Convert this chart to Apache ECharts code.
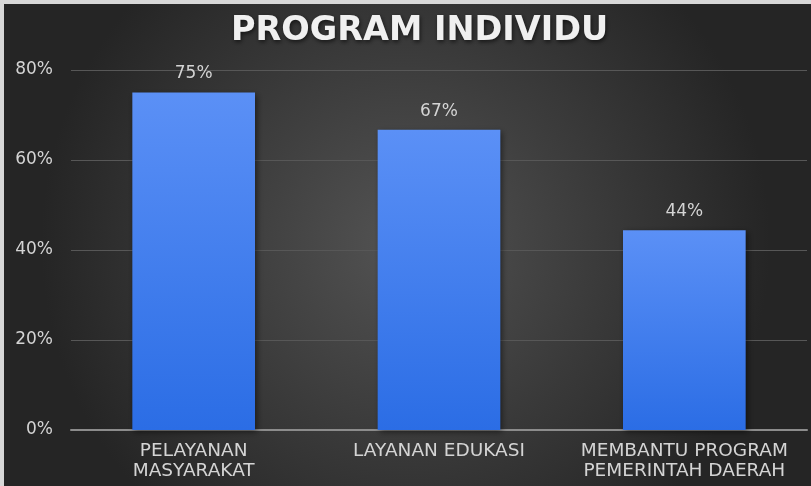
<!DOCTYPE html>
<html>
<head>
<meta charset="utf-8">
<script src="https://cdn.jsdelivr.net/npm/echarts@6/dist/echarts.min.js"></script>
<style>
html,body{margin:0;padding:0;background:#ffffff;}
#chart{width:811px;height:486px;}
</style>
</head>
<body>
<div id="chart"></div>
<script>
var categories = ['PELAYANAN\nMASYARAKAT', 'LAYANAN EDUKASI', 'MEMBANTU PROGRAM\nPEMERINTAH DAERAH'];
var values = [0.75, 0.667, 0.444];
var yTicks = { min: 0, max: 0.8, interval: 0.2 };
var titleText = 'PROGRAM INDIVIDU';

var chart = echarts.init(document.getElementById('chart'), null, { renderer: 'canvas' });
var font = '"DejaVu Sans", "Liberation Sans", sans-serif';
chart.setOption({
  backgroundColor: {
    type: 'radial', x: 0.5, y: 0.5, r: 0.75,
    colorStops: [
      { offset: 0, color: '#535353' },
      { offset: 1, color: '#252525' }
    ]
  },
  graphic: [
    { type: 'rect', left: 0, top: 0, shape: { width: 811, height: 4 }, style: { fill: '#d8d8d8' }, z: 100 },
    { type: 'rect', left: 0, top: 0, shape: { width: 4, height: 486 }, style: { fill: '#d8d8d8' }, z: 100 }
  ],
  title: {
    text: titleText,
    left: 226,
    top: 9,
    textStyle: {
      fontFamily: font,
      fontSize: 33.5,
      fontWeight: 'bold',
      color: '#f0f0f0',
      textShadowColor: 'rgba(0,0,0,0.6)',
      textShadowBlur: 4,
      textShadowOffsetX: 1,
      textShadowOffsetY: 2
    }
  },
  grid: { left: 71, right: 4, top: 70, bottom: 56 },
  xAxis: {
    type: 'category',
    data: categories,
    axisTick: { show: false },
    axisLine: { lineStyle: { color: '#8c8c8c', width: 2 } },
    axisLabel: {
      fontFamily: font,
      fontSize: 18.5,
      lineHeight: 20,
      color: '#d4d4d4',
      margin: 11,
      interval: 0
    }
  },
  yAxis: {
    type: 'value',
    min: yTicks.min,
    max: yTicks.max,
    interval: yTicks.interval,
    axisLine: { show: false },
    axisTick: { show: false },
    splitLine: { lineStyle: { color: '#575757', width: 1 } },
    axisLabel: {
      fontFamily: font,
      fontSize: 17,
      color: '#d4d4d4',
      margin: 18,
      formatter: function (v) { return Math.round(v * 100) + '%'; }
    }
  },
  series: [{
    type: 'bar',
    data: values,
    barWidth: '50%',
    itemStyle: {
      color: {
        type: 'linear', x: 0, y: 0, x2: 0, y2: 1,
        colorStops: [
          { offset: 0, color: '#5b90f6' },
          { offset: 1, color: '#2b6de5' }
        ]
      },
      shadowColor: 'rgba(0,0,0,0.5)',
      shadowBlur: 6,
      shadowOffsetX: 2,
      shadowOffsetY: 2
    },
    label: {
      show: true,
      position: 'top',
      distance: 10,
      fontFamily: font,
      fontSize: 17,
      color: '#d4d4d4',
      formatter: function (p) { return Math.round(p.value * 100) + '%'; }
    }
  }]
});
</script>
</body>
</html>
